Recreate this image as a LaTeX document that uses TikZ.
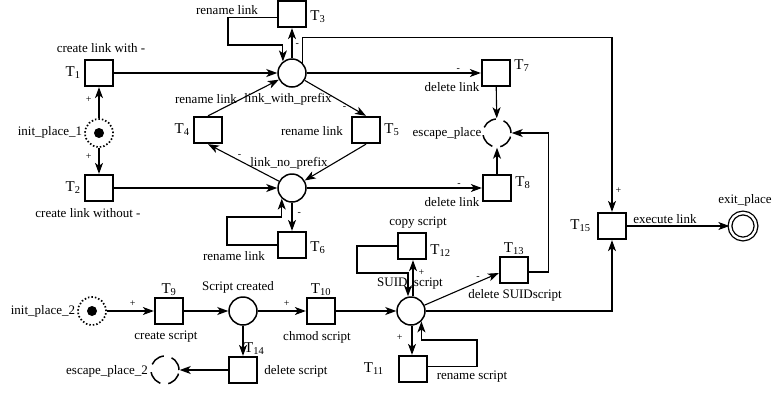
\documentclass[tikz,border=0pt]{standalone}
\usepackage{fontspec}
\setmainfont{Liberation Serif}
\usetikzlibrary{arrows.meta,positioning}

\begin{document}
\begin{tikzpicture}[x=1pt, y=-1pt, >={Stealth[length=11pt,width=8pt,inset=3pt]},
  trans/.style={draw, line width=1.8pt, minimum width=28.5pt, minimum height=26.5pt, inner sep=0pt},
  place/.style={circle, draw, line width=1.5pt, minimum size=28pt, inner sep=0pt},
  start/.style={place, dotted, line width=1.7pt},
  escape/.style={place, dash pattern=on 15pt off 8pt},
  arc/.style={->, line width=1.1pt},
  lbl/.style={font=\fontsize{13}{15}\selectfont, inner sep=1pt},
  tname/.style={font=\fontsize{15}{17}\selectfont, inner sep=3pt},
  sign/.style={font=\fontsize{10}{12}\selectfont, inner sep=1pt}]
  \useasboundingbox (0,0) rectangle (772,392);

  % link part: places
  \node[start] (init1) at (99,133) {};
  \fill (init1) circle (5pt);
  \node[place] (lwp) at (292,73) {};
  \node[place] (lnp) at (292,188) {};
  \node[escape] (esc) at (497,133) {};
  \node[place, double, double distance=2.4pt, line width=1.3pt, minimum size=26pt] (exit) at (743,226) {};

  % link part: transitions
  \node[trans, label={[tname]left:T\textsubscript{1}}] (T1) at (99,73) {};
  \node[trans, label={[tname]left:T\textsubscript{2}}] (T2) at (99,188) {};
  \node[trans, label={[tname,yshift=-3pt]right:T\textsubscript{3}}] (T3) at (292,14) {};
  \node[trans, label={[tname]left:T\textsubscript{4}}] (T4) at (208,130) {};
  \node[trans, label={[tname]right:T\textsubscript{5}}] (T5) at (366,130) {};
  \node[trans, label={[tname,yshift=-3pt]right:T\textsubscript{6}}] (T6) at (292,245) {};
  \node[trans, label={[tname,yshift=7pt]right:T\textsubscript{7}}] (T7) at (496,73) {};
  \node[trans, label={[tname,yshift=5pt]right:T\textsubscript{8}}] (T8) at (497,188) {};
  \node[trans, label={[tname,inner sep=6pt]left:T\textsubscript{15}}] (T15) at (612,226) {};

  % script part: places
  \node[start] (init2) at (92,311) {};
  \fill (init2) circle (5pt);
  \node[place] (created) at (243,311) {};
  \node[place] (suid) at (411,311) {};
  \node[escape] (esc2) at (165,370) {};

  % script part: transitions
  \node[trans, label={[tname,inner sep=1pt]above:T\textsubscript{9}}] (T9) at (169,311) {};
  \node[trans, label={[tname,inner sep=1pt]above:T\textsubscript{10}}] (T10) at (321,311) {};
  \node[trans, label={[tname,inner sep=14pt]left:T\textsubscript{11}}] (T11) at (413,369) {};
  \node[trans, label={[tname,yshift=-5pt]right:T\textsubscript{12}}] (T12) at (412,246) {};
  \node[trans, label={[tname,inner sep=1pt]above:T\textsubscript{13}}] (T13) at (514,270) {};
  \node[trans, label={[tname,anchor=south west,inner sep=1pt]north:T\textsubscript{14}}] (T14) at (243,370) {};

  % texts
  \node[lbl] (tx1) at (101,48) {create link with -};
  \node[lbl] (tx2) at (88,213) {create link without -};
  \node[lbl] (tx3) at (227,10) {rename link};
  \node[lbl] (tx4) at (206,99) {rename link};
  \node[lbl] (txwp) at (288,99) {link\_with\_prefix};
  \node[lbl] (tx5) at (312,131) {rename link};
  \node[lbl] (txnp) at (289,163) {link\_no\_prefix};
  \node[lbl] (tx6) at (234,256) {rename link};
  \node[lbl] (tx7) at (452,87) {delete link};
  \node[lbl] (tx8) at (452,202) {delete link};
  \node[lbl] (txesc) at (447,133) {escape\_place};
  \node[lbl] (txexit) at (745,200) {exit\_place};
  \node[lbl] (txi1) at (50,132) {init\_place\_1};
  \node[lbl] (txi2) at (43,311) {init\_place\_2};
  \node[lbl] (txesc2) at (107,371) {escape\_place\_2};
  \node[lbl] (tx9) at (166,337) {create script};
  \node[lbl] (txsc) at (238,287) {Script created};
  \node[lbl] (tx10) at (317,337) {chmod script};
  \node[lbl] (tx12) at (418,223) {copy script};
  \node[lbl] (txsuid) at (410,284) {SUID\_script};
  \node[lbl] (tx13) at (515,295) {delete SUIDscript};
  \node[lbl] (tx11) at (472,377) {rename script};
  \node[lbl] (tx14) at (296,371) {delete script};

  % arcs of the link part
  \draw[arc] (init1) -- (T1) node[sign, pos=.6, left=6pt] {+};
  \draw[arc] (init1) -- (T2) node[sign, pos=.35, left=6pt] {+};
  \draw[arc] (T1) -- (lwp);
  \draw[arc] (T2) -- (lnp);
  \draw[arc] (lwp) -- (T3) node[sign, pos=.45, right=2pt] {-};
  \draw[arc] ([yshift=-3.7pt]T3.west) -| (228,45) -| (lwp.128);
  \draw[arc] (lwp) -- (T5.north) node[sign, pos=.7, below left=0pt] {-};
  \draw[arc] (T4.north) -- (lwp);
  \draw[arc] (lnp) -- (T4.south) node[sign, pos=.6, above right=0pt] {-};
  \draw[arc] (T5.south) -- (lnp);
  \draw[arc] (lwp) -- (T7) node[sign, pos=.87, above] {-};
  \draw[arc] (lwp.45) -- ++(0,-25) -| (T15.north) node[sign, pos=.94, right=2pt] {+};
  \draw[arc] (lnp) -- (T8) node[sign, pos=.87, above] {-};
  \draw[arc] (lnp) -- (T6) node[sign, pos=.4, right=4pt] {-};
  \draw[arc] (T6.west) -| (227,217) -| (lnp.226);
  \draw[arc] (T7) -- (esc);
  \draw[arc] (T8) -- (esc);
  \draw[arc] ([yshift=-2pt]T13.east) -- ++(19,0) |- (esc.east);
  \draw[arc] (T15) -- (exit) node[lbl, pos=.37, above=1pt] {execute link};

  % arcs of the script part
  \draw[arc] (init2) -- (T9) node[sign, pos=.55, above=3pt] {+};
  \draw[arc] (T9) -- (created);
  \draw[arc] (created) -- (T10) node[sign, pos=.6, above=3pt] {+};
  \draw[arc] (T10) -- (suid);
  \draw[arc] (created) -- (T14);
  \draw[arc] (T14) -- (esc2);
  \draw[arc] ([xshift=2pt]suid.north) -- ([xshift=1pt]T12.south) node[sign, pos=.65, right=4pt] {+};
  \draw[arc] (T12.west) -| (357,273) -| ([xshift=-3pt]suid.north);
  \draw[arc] (suid) -- ([yshift=-3pt]T13.west) node[sign, pos=.72, above=1pt] {-};
  \draw[arc] (suid.east) -| (T15.south);
  \draw[arc] ([xshift=1pt]suid.south) -- ([xshift=-1pt]T11.north) node[sign, pos=.4, left=8pt] {+};
  \draw[arc] ([yshift=2.5pt]T11.east) -| (477,340) -| (suid.-45);
\end{tikzpicture}
\end{document}
